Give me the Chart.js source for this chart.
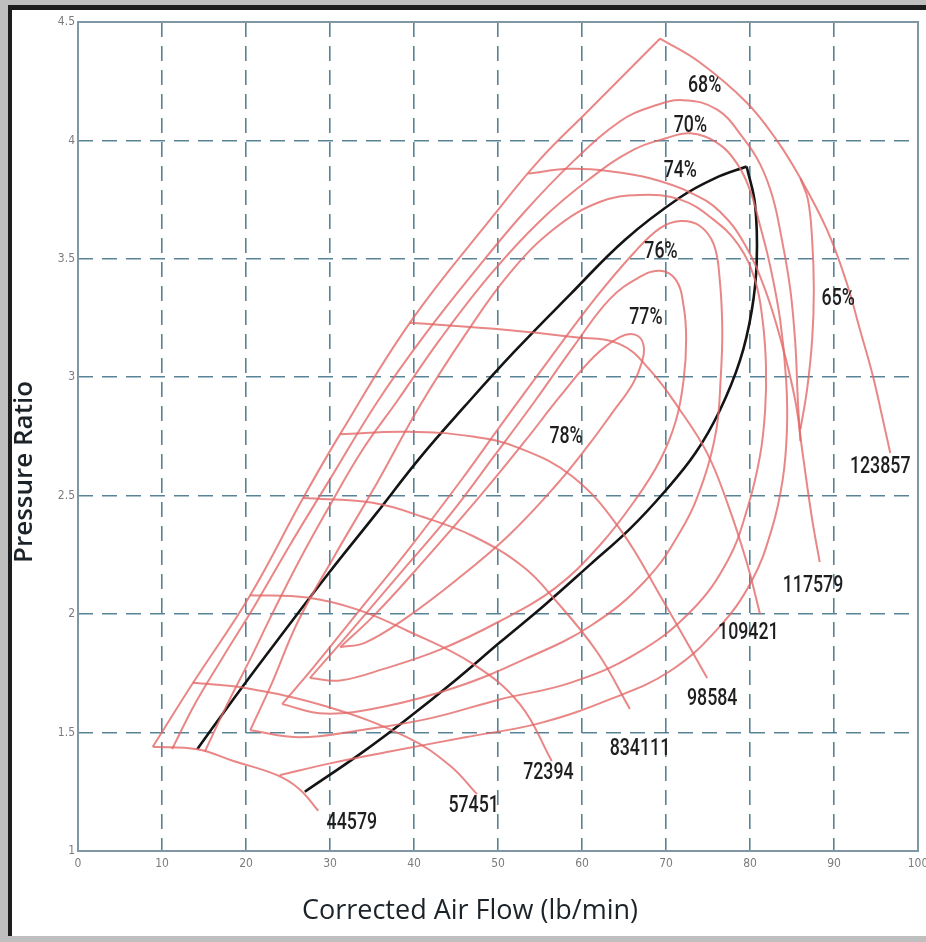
<!DOCTYPE html>
<html>
<head>
<meta charset="utf-8">
<title>Compressor Map</title>
<script src="https://cdn.jsdelivr.net/npm/chart.js@4.4.1/dist/chart.umd.min.js"></script>
<style>
  html, body { margin: 0; padding: 0; }
  body { width: 926px; height: 942px; background: #bfbfbf; overflow: hidden; position: relative; }
  .frame { position: absolute; left: 8px; top: 5px; width: 930px; height: 931px; box-sizing: border-box;
           border-top: 5px solid #1d1d1d; border-left: 4px solid #1d1d1d; background: #fff; }
  #map { position: absolute; left: 0; top: 0; }
</style>
</head>
<body>
<div class="frame"></div>
<canvas id="map" width="926" height="942"></canvas>
<script>
// axis ticks
const xTicks = [0, 10, 20, 30, 40, 50, 60, 70, 80, 90, 100];
const yTicks = [1, 1.5, 2, 2.5, 3, 3.5, 4, 4.5];

// surge line (left boundary of the map)
const surgeLine = [[8.9,1.44],[13.7,1.71],[20.5,2.08],[26.8,2.49],[31.2,2.76],[39.5,3.23],[49.4,3.68],[55.0,3.92],[60.6,4.12],[69.3,4.43]];

// speed lines, labelled at their lower end
const speed44579 = [[8.9,1.44],[14.2,1.43],[18.5,1.38],[23.7,1.32],[26.4,1.26],[28.6,1.17]];
const speed57451 = [[13.7,1.71],[19.6,1.69],[29.6,1.61],[39.2,1.48],[44.3,1.36],[47.5,1.24]];
const speed72394 = [[20.5,2.08],[27.3,2.07],[33.2,2.02],[39.2,1.93],[47.0,1.79],[52.6,1.62],[56.4,1.38]];
const speed834111 = [[26.8,2.49],[35.1,2.47],[41.1,2.41],[47.0,2.33],[53.0,2.20],[56.8,2.06],[61.8,1.84],[65.7,1.60]];
const speed98584 = [[31.2,2.76],[39.2,2.77],[47.0,2.75],[52.6,2.70],[58.9,2.58],[64.5,2.36],[69.6,2.06],[74.9,1.73]];
const speed109421 = [[39.5,3.23],[51.1,3.20],[58.9,3.17],[64.5,3.14],[68.1,3.03],[71.7,2.86],[74.9,2.68],[77.3,2.47],[79.6,2.22],[81.2,2.00]];
const speed117579 = [[53.6,3.86],[58.6,3.88],[63.3,3.87],[68.1,3.84],[72.9,3.78],[76.4,3.70],[79.4,3.56],[81.8,3.37],[83.8,3.14],[85.4,2.90],[86.3,2.67],[87.4,2.40],[88.3,2.22]];
const speed123857 = [[69.3,4.43],[74.0,4.33],[79.6,4.16],[83.2,4.00],[86.0,3.84],[89.2,3.62],[91.5,3.40],[93.1,3.20],[94.6,3.01],[95.7,2.84],[96.7,2.68]];

// efficiency contours
const eff65 = [[86.0,3.84],[86.9,3.75],[87.4,3.58],[87.6,3.37],[87.4,3.16],[86.8,2.95],[86.0,2.78]];
const eff68 = [[11.2,1.43],[13.9,1.62],[17.1,1.81],[21.1,2.04],[25.2,2.29],[30.0,2.57],[35.7,2.90],[41.3,3.18],[47.3,3.45],[53.2,3.70],[59.2,3.92],[64.5,4.08],[68.1,4.14],[72.0,4.17],[76.1,4.13],[79.2,4.01],[81.2,3.90],[82.7,3.76],[83.8,3.58],[84.8,3.37],[85.4,3.14],[85.7,2.90],[86.0,2.73]];
const eff70 = [[15.1,1.42],[17.5,1.60],[20.5,1.81],[23.1,2.00],[26.4,2.23],[30.0,2.46],[33.8,2.69],[38.0,2.90],[43.1,3.16],[49.0,3.43],[55.0,3.66],[61.0,3.84],[66.1,3.96],[70.1,4.01],[72.9,4.03],[76.1,3.99],[78.5,3.90],[80.0,3.79],[81.2,3.64],[82.4,3.47],[83.6,3.24],[84.3,2.99],[84.4,2.78],[83.9,2.57],[82.6,2.36],[80.2,2.14],[76.2,1.94],[70.5,1.76],[63.3,1.64],[55.0,1.54],[46.1,1.48],[37.1,1.42],[30.0,1.37],[24.0,1.32]];
const eff74 = [[20.5,1.51],[23.1,1.71],[26.2,1.97],[30.6,2.25],[35.7,2.56],[40.7,2.88],[46.1,3.18],[51.4,3.44],[56.8,3.63],[62.1,3.74],[66.9,3.77],[71.7,3.75],[75.5,3.67],[78.6,3.56],[80.6,3.41],[81.5,3.24],[81.9,3.05],[81.8,2.86],[81.2,2.67],[79.8,2.46],[77.4,2.23],[72.9,2.01],[66.3,1.83],[58.6,1.71],[50.2,1.64],[41.9,1.56],[33.6,1.51],[26.4,1.48],[20.5,1.51]];
const eff76 = [[24.3,1.62],[27.9,1.77],[33.6,2.02],[39.5,2.28],[45.5,2.56],[50.8,2.82],[56.2,3.08],[61.5,3.33],[66.3,3.53],[69.3,3.63],[71.7,3.66],[74.0,3.64],[75.7,3.56],[76.4,3.41],[76.7,3.20],[76.5,2.99],[76.0,2.78],[74.5,2.57],[71.9,2.36],[67.5,2.14],[61.0,1.95],[53.2,1.81],[44.9,1.69],[36.5,1.61],[29.4,1.58],[24.3,1.62]];
const eff77 = [[27.6,1.73],[31.8,1.90],[38.3,2.17],[44.3,2.42],[49.6,2.67],[54.4,2.90],[59.2,3.14],[63.3,3.33],[66.7,3.42],[69.3,3.45],[71.2,3.41],[72.1,3.30],[72.4,3.16],[72.1,2.99],[71.2,2.82],[69.3,2.65],[66.3,2.48],[62.1,2.29],[56.8,2.11],[50.2,1.97],[43.1,1.85],[36.5,1.77],[31.2,1.72],[27.6,1.73]];
const eff78 = [[31.2,1.86],[35.4,2.00],[41.3,2.23],[47.9,2.50],[53.2,2.73],[57.4,2.92],[61.5,3.09],[64.5,3.17],[66.3,3.18],[67.3,3.14],[67.1,3.06],[66.0,2.97],[63.6,2.85],[60.7,2.71],[56.8,2.54],[51.2,2.33],[44.9,2.14],[38.9,1.98],[34.2,1.88],[31.2,1.86]];

// black operating range line: upper arm up to the corner, then down the right side and back
const rangeUpper = [[14.2,1.43],[19.3,1.68],[24.6,1.93],[30.0,2.18],[35.4,2.42],[40.7,2.66],[46.1,2.88],[52.0,3.11],[58.6,3.35],[65.1,3.58],[71.7,3.76],[75.8,3.84],[79.6,3.89]];
const rangeLower = [[79.6,3.89],[80.6,3.73],[80.8,3.49],[80.2,3.28],[78.8,3.07],[76.4,2.86],[73.5,2.68],[69.9,2.52],[65.7,2.36],[61.0,2.21],[55.6,2.04],[50.2,1.88],[44.9,1.72],[38.9,1.55],[33.6,1.41],[27.0,1.25]];

// text labels on the map
const labelText = ['68%', '70%', '74%', '76%', '77%', '78%', '65%', '123857', '117579', '109421', '98584', '834111', '72394', '57451', '44579'];
const labelX = [74.6, 72.9, 71.7, 69.4, 67.6, 58.1, 90.5, 95.5, 87.5, 79.8, 75.5, 66.9, 56.0, 47.1, 32.6];
const labelY = [4.23, 4.06, 3.87, 3.53, 3.25, 2.75, 3.33, 2.62, 2.12, 1.92, 1.64, 1.43, 1.33, 1.19, 1.12];

const redCurves = [surgeLine, speed44579, speed57451, speed72394, speed834111, speed98584, speed109421,
    speed117579, speed123857, eff65, eff68, eff70, eff74, eff76, eff77, eff78];
const blackCurves = [rangeUpper, rangeLower];

const toPoints = arr => arr.map(p => ({ x: p[0], y: p[1] }));

const lineSet = (c, color, width) => ({
    data: toPoints(c),
    showLine: true,
    borderColor: color,
    borderWidth: width,
    pointRadius: 0,
    tension: 0.4,
    fill: false
});

const datasets = redCurves.map(c => lineSet(c, 'rgba(228,104,104,0.8)', 2))
    .concat(blackCurves.map(c => lineSet(c, '#141414', 2.6)));

const gridColor = 'rgba(70,118,140,0.9)';
const tickFont = { family: "'Liberation Sans Narrow', 'DejaVu Sans Condensed', Roboto, sans-serif", size: 12 };

// frame, axis titles and map labels
const mapDecor = {
    id: 'mapDecor',
    beforeDatasetsDraw(chart) {
        const { ctx, chartArea: a } = chart;
        ctx.save();
        ctx.strokeStyle = '#7f97a4';
        ctx.lineWidth = 2;
        ctx.strokeRect(a.left, a.top, a.right - a.left, a.bottom - a.top);
        ctx.restore();
    },
    afterDatasetsDraw(chart) {
        const { ctx, scales } = chart;
        ctx.save();
        ctx.fillStyle = '#1e1e1e';
        ctx.textAlign = 'center';
        ctx.textBaseline = 'middle';
        ctx.font = "500 24px Roboto, 'DejaVu Sans', sans-serif";
        for (let i = 0; i < labelText.length; i++) {
            const px = scales.x.getPixelForValue(labelX[i]);
            const py = scales.y.getPixelForValue(labelY[i]);
            ctx.save();
            ctx.translate(px, py);
            ctx.scale(0.74, 1);
            ctx.fillText(labelText[i], 0, 0);
            ctx.restore();
        }
        ctx.restore();

        ctx.save();
        ctx.fillStyle = '#1b2329';
        ctx.textAlign = 'center';
        ctx.textBaseline = 'middle';
        ctx.font = "27px 'Open Sans', 'Noto Sans', sans-serif";
        ctx.fillText('Corrected Air Flow (lb/min)', 470, 911);
        ctx.translate(25, 472);
        ctx.rotate(-Math.PI / 2);
        ctx.font = "600 26px 'Open Sans', 'Noto Sans', sans-serif";
        ctx.fillText('Pressure Ratio', 0, 0);
        ctx.restore();
    }
};

new Chart(document.getElementById('map'), {
    type: 'scatter',
    data: { datasets: datasets },
    options: {
        responsive: false,
        animation: false,
        layout: { padding: { left: 0, top: 22, right: 8, bottom: 0 } },
        plugins: { legend: { display: false }, tooltip: { enabled: false } },
        scales: {
            x: {
                type: 'linear', min: 0, max: 100,
                afterBuildTicks: s => { s.ticks = xTicks.map(v => ({ value: v })); },
                ticks: { padding: 6, color: '#7c7c7c', font: tickFont, maxRotation: 0, autoSkip: false,
                         callback: v => String(v) },
                grid: { color: gridColor, lineWidth: 1.6, drawTicks: false },
                border: { display: false, dash: [15, 9] },
                afterFit: s => { s.height = 91; s.paddingLeft = 0; s.paddingRight = 0; }
            },
            y: {
                type: 'linear', min: 1, max: 4.5,
                afterBuildTicks: s => { s.ticks = yTicks.map(v => ({ value: v })); },
                ticks: { padding: 3, color: '#7c7c7c', font: tickFont, autoSkip: false,
                         callback: v => String(v) },
                grid: { color: gridColor, lineWidth: 1.6, drawTicks: false },
                border: { display: false, dash: [15, 9] },
                afterFit: s => { s.width = 78; }
            }
        }
    },
    plugins: [mapDecor]
});
</script>
</body>
</html>
